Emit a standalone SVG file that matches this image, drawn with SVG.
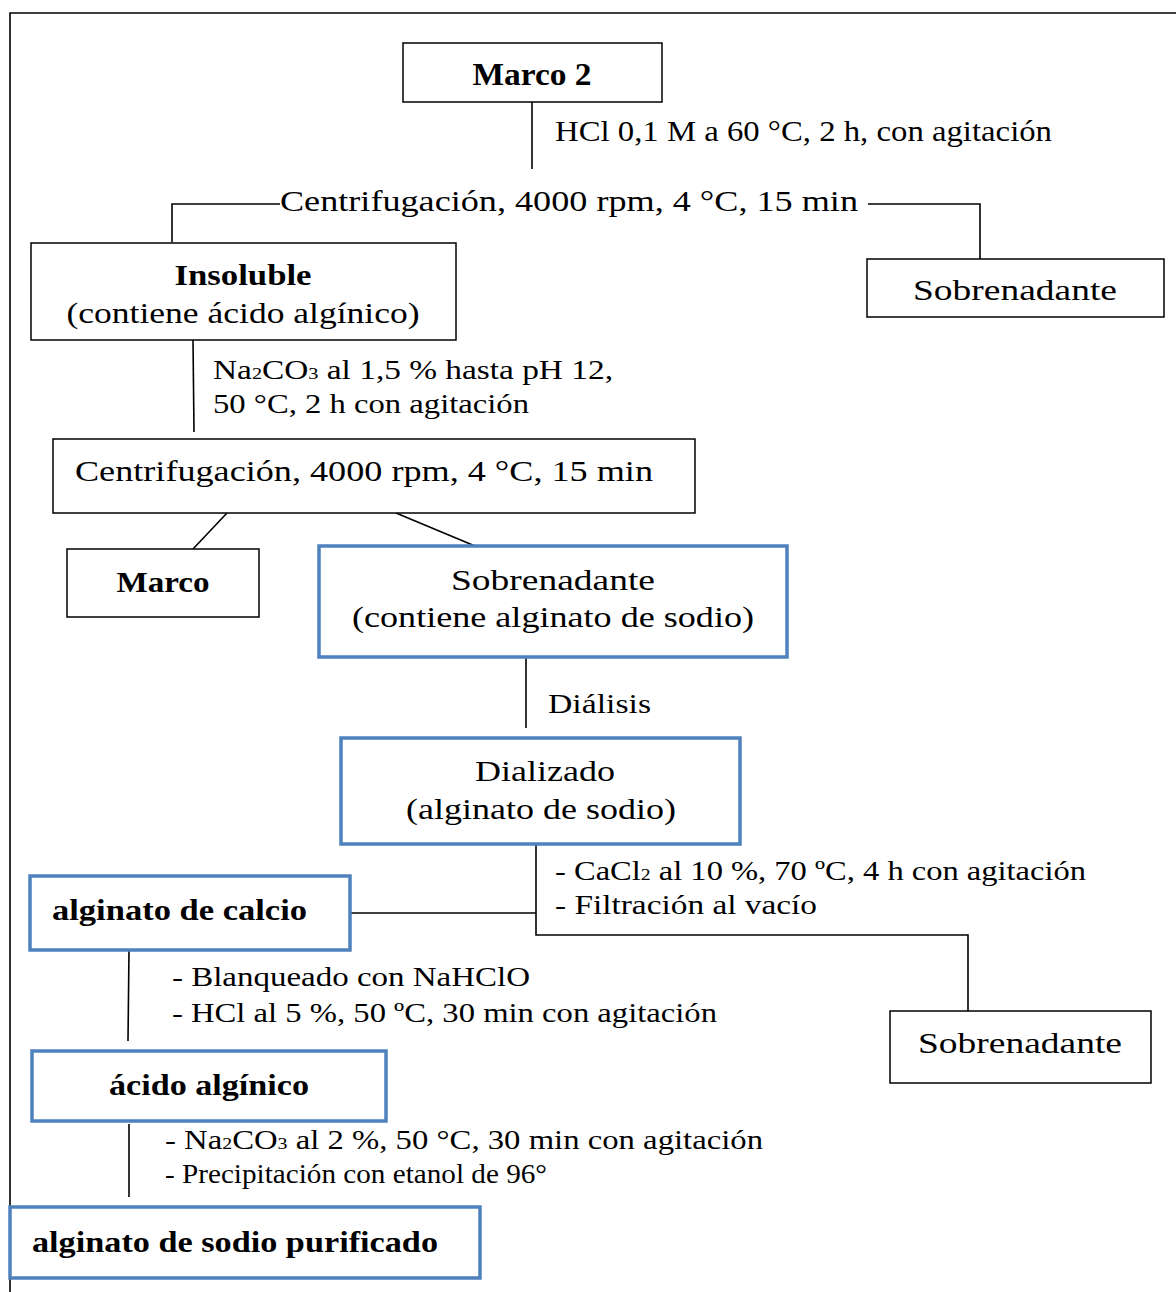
<svg xmlns="http://www.w3.org/2000/svg" width="1176" height="1292" viewBox="0 0 1176 1292">
  <style>
    text { font-family: "Liberation Serif", "DejaVu Serif", serif; font-size: 28px; fill: #000; }
    .b { font-weight: bold; }
    .c { text-anchor: middle; }
    .lg { font-size: 29px; }
    .xl { font-size: 32px; }
    .box { fill: #fff; stroke: #000; stroke-width: 1.5; }
    .blue { fill: #fff; stroke: #4F81BD; stroke-width: 3.5; }
    .ln { fill: none; stroke: #000; stroke-width: 1.6; }
    .sub { font-size: 17px; }
  </style>
  <rect width="1176" height="1292" fill="#fff"/>
  <!-- outer frame -->
  <path class="ln" d="M10,1292 V13 H1176" stroke-width="2"/>

  <g id="connectors">
    <path class="ln" d="M532,102 V169"/>
    <path class="ln" d="M172,242 V204 H280"/>
    <path class="ln" d="M868,204 H980 V259"/>
    <path class="ln" d="M193,340 L194,432"/>
    <path class="ln" d="M227,513 L193,549"/>
    <path class="ln" d="M396,513 L475,546"/>
    <path class="ln" d="M526,657 V728"/>
    <path class="ln" d="M536,844 V935 H968 V1011"/>
    <path class="ln" d="M350,913 H536"/>
    <path class="ln" d="M129,950 L128,1041"/>
    <path class="ln" d="M129,1124 V1197"/>
  </g>

  <g id="labels">
    <text class="lg" x="555" y="141" textLength="497" lengthAdjust="spacingAndGlyphs">HCl 0,1 M a 60 °C, 2 h, con agitación</text>
    <text class="lg" x="280" y="211" textLength="578" lengthAdjust="spacingAndGlyphs">Centrifugación, 4000 rpm, 4 °C, 15 min</text>
    <text x="213" y="379" textLength="400" lengthAdjust="spacingAndGlyphs">Na<tspan class="sub">2</tspan>CO<tspan class="sub">3</tspan> al 1,5 % hasta pH 12,</text>
    <text x="213" y="413" textLength="316" lengthAdjust="spacingAndGlyphs">50 °C, 2 h con agitación</text>
    <text x="548" y="713" textLength="103" lengthAdjust="spacingAndGlyphs">Diálisis</text>
    <text x="555" y="880" textLength="531" lengthAdjust="spacingAndGlyphs">- CaCl<tspan class="sub">2</tspan> al 10 %, 70 ºC, 4 h con agitación</text>
    <text x="555" y="914" textLength="262" lengthAdjust="spacingAndGlyphs">- Filtración al vacío</text>
    <text x="172" y="986" textLength="358" lengthAdjust="spacingAndGlyphs">- Blanqueado con NaHClO</text>
    <text x="172" y="1022" textLength="545" lengthAdjust="spacingAndGlyphs">- HCl al 5 %, 50 ºC, 30 min con agitación</text>
    <text x="165" y="1149" textLength="598" lengthAdjust="spacingAndGlyphs">- Na<tspan class="sub">2</tspan>CO<tspan class="sub">3</tspan> al 2 %, 50 °C, 30 min con agitación</text>
    <text x="165" y="1183" textLength="382" lengthAdjust="spacingAndGlyphs">- Precipitación con etanol de 96°</text>
  </g>

  <g id="marco2">
    <rect class="box" x="403" y="43" width="259" height="59"/>
    <text class="b c xl" x="532" y="85" textLength="119" lengthAdjust="spacingAndGlyphs">Marco 2</text>
  </g>
  <g id="sobrenadante1">
    <rect class="box" x="867" y="259" width="297" height="58"/>
    <text class="c lg" x="1015" y="300" textLength="204" lengthAdjust="spacingAndGlyphs">Sobrenadante</text>
  </g>
  <g id="insoluble">
    <rect class="box" x="31" y="243" width="425" height="97"/>
    <text class="b c lg" x="243" y="285" textLength="137" lengthAdjust="spacingAndGlyphs">Insoluble</text>
    <text class="c lg" x="243" y="323" textLength="353" lengthAdjust="spacingAndGlyphs">(contiene ácido algínico)</text>
  </g>
  <g id="centrifugacion2">
    <rect class="box" x="53" y="439" width="642" height="74"/>
    <text class="lg" x="75" y="481" textLength="578" lengthAdjust="spacingAndGlyphs">Centrifugación, 4000 rpm, 4 °C, 15 min</text>
  </g>
  <g id="marco">
    <rect class="box" x="67" y="549" width="192" height="68"/>
    <text class="b c lg" x="163" y="592" textLength="93" lengthAdjust="spacingAndGlyphs">Marco</text>
  </g>
  <g id="sobrenadante2">
    <rect class="blue" x="319" y="546" width="468" height="111"/>
    <text class="c lg" x="553" y="590" textLength="204" lengthAdjust="spacingAndGlyphs">Sobrenadante</text>
    <text class="c lg" x="553" y="627" textLength="402" lengthAdjust="spacingAndGlyphs">(contiene alginato de sodio)</text>
  </g>
  <g id="dializado">
    <rect class="blue" x="341" y="738" width="399" height="106"/>
    <text class="c lg" x="545" y="781" textLength="140" lengthAdjust="spacingAndGlyphs">Dializado</text>
    <text class="c lg" x="541" y="819" textLength="270" lengthAdjust="spacingAndGlyphs">(alginato de sodio)</text>
  </g>
  <g id="sobrenadante3">
    <rect class="box" x="890" y="1011" width="261" height="72"/>
    <text class="c lg" x="1020" y="1053" textLength="204" lengthAdjust="spacingAndGlyphs">Sobrenadante</text>
  </g>
  <g id="alginato-calcio">
    <rect class="blue" x="30" y="876" width="320" height="74"/>
    <text class="b lg" x="52" y="920" textLength="255" lengthAdjust="spacingAndGlyphs">alginato de calcio</text>
  </g>
  <g id="acido-alginico">
    <rect class="blue" x="32" y="1051" width="354" height="70"/>
    <text class="b c lg" x="209" y="1095" textLength="200" lengthAdjust="spacingAndGlyphs">ácido algínico</text>
  </g>
  <g id="alginato-sodio-purificado">
    <rect class="blue" x="10" y="1207" width="470" height="71"/>
    <text class="b lg" x="32" y="1252" textLength="406" lengthAdjust="spacingAndGlyphs">alginato de sodio purificado</text>
  </g>
</svg>
